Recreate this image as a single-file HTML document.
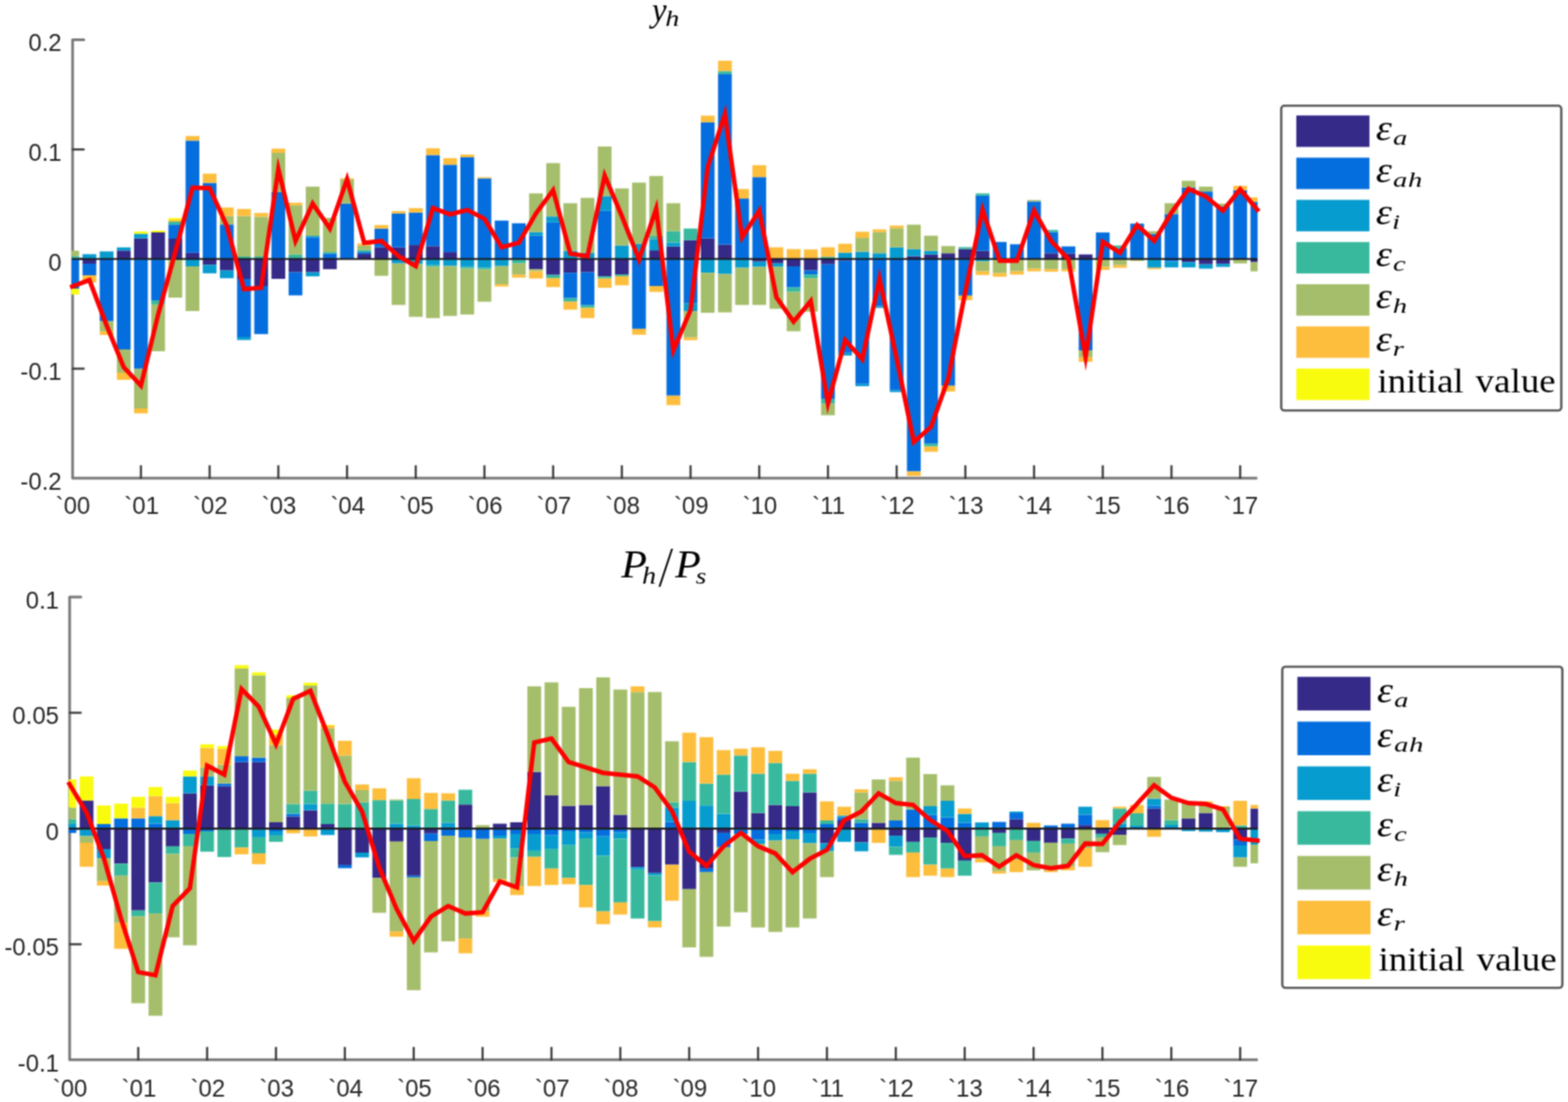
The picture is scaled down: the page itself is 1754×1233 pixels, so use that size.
<!DOCTYPE html>
<html lang="en"><head><meta charset="utf-8"><title>Historical decomposition</title>
<style>
html,body{margin:0;padding:0;background:#fff;}
body{width:1754px;height:1233px;overflow:hidden;}
svg{display:block;}
.tk{font-family:"Liberation Sans",sans-serif;font-size:27.2px;fill:#262626;}
.lg{font-family:"Liberation Serif",serif;font-size:37.2px;fill:#000;}
.mi{font-family:"Liberation Serif",serif;font-style:italic;fill:#000;}
</style></head>
<body>
<svg width="1754" height="1233" viewBox="0 0 1754 1233">
<defs><filter id="soft" x="0" y="0" width="1754" height="1233" filterUnits="userSpaceOnUse" color-interpolation-filters="sRGB"><feConvolveMatrix order="3" kernelMatrix="1 2 1 2 4 2 1 2 1" divisor="16" edgeMode="duplicate" preserveAlpha="true"/></filter></defs>
<g filter="url(#soft)">
<rect width="100%" height="100%" fill="#fff"/>
<g id="chart-yh">
<path d="M81.2 44.4 V535 H1406.5" fill="none" stroke="#787878" stroke-width="3.0" stroke-linejoin="round"/>
<text transform="translate(81.60,574.6) scale(0.985,1)" class="tk" text-anchor="middle">`00</text>
<line x1="157.65" y1="535.8" x2="157.65" y2="520.6" stroke="#3c3c3c" stroke-width="2.4"/>
<text transform="translate(158.45,574.6) scale(0.985,1)" class="tk" text-anchor="middle">`01</text>
<line x1="234.50" y1="535.8" x2="234.50" y2="520.6" stroke="#3c3c3c" stroke-width="2.4"/>
<text transform="translate(235.30,574.6) scale(0.985,1)" class="tk" text-anchor="middle">`02</text>
<line x1="311.36" y1="535.8" x2="311.36" y2="520.6" stroke="#3c3c3c" stroke-width="2.4"/>
<text transform="translate(312.16,574.6) scale(0.985,1)" class="tk" text-anchor="middle">`03</text>
<line x1="388.21" y1="535.8" x2="388.21" y2="520.6" stroke="#3c3c3c" stroke-width="2.4"/>
<text transform="translate(389.01,574.6) scale(0.985,1)" class="tk" text-anchor="middle">`04</text>
<line x1="465.06" y1="535.8" x2="465.06" y2="520.6" stroke="#3c3c3c" stroke-width="2.4"/>
<text transform="translate(465.86,574.6) scale(0.985,1)" class="tk" text-anchor="middle">`05</text>
<line x1="541.91" y1="535.8" x2="541.91" y2="520.6" stroke="#3c3c3c" stroke-width="2.4"/>
<text transform="translate(542.71,574.6) scale(0.985,1)" class="tk" text-anchor="middle">`06</text>
<line x1="618.76" y1="535.8" x2="618.76" y2="520.6" stroke="#3c3c3c" stroke-width="2.4"/>
<text transform="translate(619.56,574.6) scale(0.985,1)" class="tk" text-anchor="middle">`07</text>
<line x1="695.62" y1="535.8" x2="695.62" y2="520.6" stroke="#3c3c3c" stroke-width="2.4"/>
<text transform="translate(696.42,574.6) scale(0.985,1)" class="tk" text-anchor="middle">`08</text>
<line x1="772.47" y1="535.8" x2="772.47" y2="520.6" stroke="#3c3c3c" stroke-width="2.4"/>
<text transform="translate(773.27,574.6) scale(0.985,1)" class="tk" text-anchor="middle">`09</text>
<line x1="849.32" y1="535.8" x2="849.32" y2="520.6" stroke="#3c3c3c" stroke-width="2.4"/>
<text transform="translate(850.12,574.6) scale(0.985,1)" class="tk" text-anchor="middle">`10</text>
<line x1="926.17" y1="535.8" x2="926.17" y2="520.6" stroke="#3c3c3c" stroke-width="2.4"/>
<text transform="translate(926.97,574.6) scale(0.985,1)" class="tk" text-anchor="middle">`11</text>
<line x1="1003.02" y1="535.8" x2="1003.02" y2="520.6" stroke="#3c3c3c" stroke-width="2.4"/>
<text transform="translate(1003.82,574.6) scale(0.985,1)" class="tk" text-anchor="middle">`12</text>
<line x1="1079.88" y1="535.8" x2="1079.88" y2="520.6" stroke="#3c3c3c" stroke-width="2.4"/>
<text transform="translate(1080.68,574.6) scale(0.985,1)" class="tk" text-anchor="middle">`13</text>
<line x1="1156.73" y1="535.8" x2="1156.73" y2="520.6" stroke="#3c3c3c" stroke-width="2.4"/>
<text transform="translate(1157.53,574.6) scale(0.985,1)" class="tk" text-anchor="middle">`14</text>
<line x1="1233.58" y1="535.8" x2="1233.58" y2="520.6" stroke="#3c3c3c" stroke-width="2.4"/>
<text transform="translate(1234.38,574.6) scale(0.985,1)" class="tk" text-anchor="middle">`15</text>
<line x1="1310.43" y1="535.8" x2="1310.43" y2="520.6" stroke="#3c3c3c" stroke-width="2.4"/>
<text transform="translate(1311.23,574.6) scale(0.985,1)" class="tk" text-anchor="middle">`16</text>
<line x1="1387.28" y1="535.8" x2="1387.28" y2="520.6" stroke="#3c3c3c" stroke-width="2.4"/>
<text transform="translate(1388.08,574.6) scale(0.985,1)" class="tk" text-anchor="middle">`17</text>
<line x1="81.2" y1="44.4" x2="93.8" y2="44.4" stroke="#787878" stroke-width="3.0" stroke-linecap="round"/>
<text transform="translate(69,57.20) scale(0.985,1)" class="tk" text-anchor="end">0.2</text>
<line x1="80.4" y1="167.2" x2="94.60000000000001" y2="167.2" stroke="#3c3c3c" stroke-width="2.4"/>
<text transform="translate(69,180.00) scale(0.985,1)" class="tk" text-anchor="end">0.1</text>
<line x1="80.4" y1="289.75" x2="94.60000000000001" y2="289.75" stroke="#3c3c3c" stroke-width="2.4"/>
<text transform="translate(69,302.55) scale(0.985,1)" class="tk" text-anchor="end">0</text>
<line x1="80.4" y1="412.5" x2="94.60000000000001" y2="412.5" stroke="#3c3c3c" stroke-width="2.4"/>
<text transform="translate(69,425.30) scale(0.985,1)" class="tk" text-anchor="end">-0.1</text>
<text transform="translate(69,547.80) scale(0.985,1)" class="tk" text-anchor="end">-0.2</text>
<clipPath id="c1"><rect x="80.00" y="14.399999999999999" width="1326.80" height="520.6"/></clipPath>
<g clip-path="url(#c1)">
<rect x="73.10" y="286.50" width="15.40" height="3.25" fill="#38b99e"/>
<rect x="73.10" y="280.50" width="15.40" height="6.00" fill="#a5be6b"/>
<rect x="73.10" y="289.75" width="15.40" height="33.25" fill="#056ede"/>
<rect x="73.10" y="323.00" width="15.40" height="6.50" fill="#f9fb0e"/>
<rect x="92.31" y="284.40" width="15.40" height="5.35" fill="#079ccf"/>
<rect x="92.31" y="289.75" width="15.40" height="5.25" fill="#352a87"/>
<rect x="92.31" y="295.00" width="15.40" height="13.00" fill="#056ede"/>
<rect x="92.31" y="308.00" width="15.40" height="8.00" fill="#fdbe3d"/>
<rect x="111.53" y="281.30" width="15.40" height="8.45" fill="#079ccf"/>
<rect x="111.53" y="289.75" width="15.40" height="69.75" fill="#056ede"/>
<rect x="111.53" y="359.50" width="15.40" height="11.30" fill="#a5be6b"/>
<rect x="111.53" y="370.80" width="15.40" height="4.00" fill="#fdbe3d"/>
<rect x="130.74" y="280.30" width="15.40" height="9.45" fill="#352a87"/>
<rect x="130.74" y="276.80" width="15.40" height="3.50" fill="#079ccf"/>
<rect x="130.74" y="289.75" width="15.40" height="101.25" fill="#056ede"/>
<rect x="130.74" y="391.00" width="15.40" height="26.00" fill="#a5be6b"/>
<rect x="130.74" y="417.00" width="15.40" height="8.00" fill="#fdbe3d"/>
<rect x="149.95" y="266.70" width="15.40" height="23.05" fill="#352a87"/>
<rect x="149.95" y="261.50" width="15.40" height="5.20" fill="#079ccf"/>
<rect x="149.95" y="259.00" width="15.40" height="2.50" fill="#f9fb0e"/>
<rect x="149.95" y="289.75" width="15.40" height="122.95" fill="#056ede"/>
<rect x="149.95" y="412.70" width="15.40" height="44.30" fill="#a5be6b"/>
<rect x="149.95" y="457.00" width="15.40" height="5.50" fill="#fdbe3d"/>
<rect x="169.17" y="260.00" width="15.40" height="29.75" fill="#352a87"/>
<rect x="169.17" y="258.00" width="15.40" height="2.00" fill="#f9fb0e"/>
<rect x="169.17" y="289.75" width="15.40" height="46.25" fill="#056ede"/>
<rect x="169.17" y="336.00" width="15.40" height="4.80" fill="#38b99e"/>
<rect x="169.17" y="340.80" width="15.40" height="52.20" fill="#a5be6b"/>
<rect x="188.38" y="267.00" width="15.40" height="22.75" fill="#352a87"/>
<rect x="188.38" y="251.20" width="15.40" height="15.80" fill="#056ede"/>
<rect x="188.38" y="248.00" width="15.40" height="3.20" fill="#38b99e"/>
<rect x="188.38" y="246.00" width="15.40" height="2.00" fill="#fdbe3d"/>
<rect x="188.38" y="244.00" width="15.40" height="2.00" fill="#f9fb0e"/>
<rect x="188.38" y="289.75" width="15.40" height="43.25" fill="#a5be6b"/>
<rect x="207.59" y="282.80" width="15.40" height="6.95" fill="#352a87"/>
<rect x="207.59" y="157.30" width="15.40" height="125.50" fill="#056ede"/>
<rect x="207.59" y="152.20" width="15.40" height="5.10" fill="#fdbe3d"/>
<rect x="207.59" y="289.75" width="15.40" height="8.25" fill="#079ccf"/>
<rect x="207.59" y="298.00" width="15.40" height="50.00" fill="#a5be6b"/>
<rect x="226.80" y="204.60" width="15.40" height="85.15" fill="#056ede"/>
<rect x="226.80" y="194.30" width="15.40" height="10.30" fill="#fdbe3d"/>
<rect x="226.80" y="289.75" width="15.40" height="6.55" fill="#352a87"/>
<rect x="226.80" y="296.30" width="15.40" height="9.50" fill="#079ccf"/>
<rect x="246.02" y="251.20" width="15.40" height="38.55" fill="#056ede"/>
<rect x="246.02" y="241.70" width="15.40" height="9.50" fill="#a5be6b"/>
<rect x="246.02" y="232.20" width="15.40" height="9.50" fill="#fdbe3d"/>
<rect x="246.02" y="289.75" width="15.40" height="12.85" fill="#352a87"/>
<rect x="246.02" y="302.60" width="15.40" height="8.70" fill="#079ccf"/>
<rect x="265.23" y="287.00" width="15.40" height="2.75" fill="#38b99e"/>
<rect x="265.23" y="241.70" width="15.40" height="45.30" fill="#a5be6b"/>
<rect x="265.23" y="233.80" width="15.40" height="7.90" fill="#fdbe3d"/>
<rect x="265.23" y="289.75" width="15.40" height="22.25" fill="#352a87"/>
<rect x="265.23" y="312.00" width="15.40" height="65.00" fill="#056ede"/>
<rect x="265.23" y="377.00" width="15.40" height="3.40" fill="#079ccf"/>
<rect x="284.44" y="287.00" width="15.40" height="2.75" fill="#38b99e"/>
<rect x="284.44" y="242.50" width="15.40" height="44.50" fill="#a5be6b"/>
<rect x="284.44" y="238.30" width="15.40" height="4.20" fill="#fdbe3d"/>
<rect x="284.44" y="289.75" width="15.40" height="30.25" fill="#352a87"/>
<rect x="284.44" y="320.00" width="15.40" height="53.80" fill="#056ede"/>
<rect x="303.66" y="214.80" width="15.40" height="74.95" fill="#056ede"/>
<rect x="303.66" y="171.00" width="15.40" height="43.80" fill="#a5be6b"/>
<rect x="303.66" y="166.30" width="15.40" height="4.70" fill="#fdbe3d"/>
<rect x="303.66" y="289.75" width="15.40" height="22.25" fill="#352a87"/>
<rect x="322.87" y="284.70" width="15.40" height="5.05" fill="#38b99e"/>
<rect x="322.87" y="229.80" width="15.40" height="54.90" fill="#a5be6b"/>
<rect x="322.87" y="226.80" width="15.40" height="3.00" fill="#fdbe3d"/>
<rect x="322.87" y="289.75" width="15.40" height="14.85" fill="#352a87"/>
<rect x="322.87" y="304.60" width="15.40" height="25.90" fill="#056ede"/>
<rect x="342.08" y="265.70" width="15.40" height="24.05" fill="#056ede"/>
<rect x="342.08" y="264.00" width="15.40" height="1.70" fill="#079ccf"/>
<rect x="342.08" y="208.80" width="15.40" height="55.20" fill="#a5be6b"/>
<rect x="342.08" y="289.75" width="15.40" height="14.85" fill="#352a87"/>
<rect x="342.08" y="304.60" width="15.40" height="4.60" fill="#079ccf"/>
<rect x="361.30" y="283.70" width="15.40" height="6.05" fill="#056ede"/>
<rect x="361.30" y="282.00" width="15.40" height="1.70" fill="#38b99e"/>
<rect x="361.30" y="243.80" width="15.40" height="38.20" fill="#a5be6b"/>
<rect x="361.30" y="289.75" width="15.40" height="11.45" fill="#352a87"/>
<rect x="380.51" y="227.80" width="15.40" height="61.95" fill="#056ede"/>
<rect x="380.51" y="200.90" width="15.40" height="26.90" fill="#a5be6b"/>
<rect x="380.51" y="199.50" width="15.40" height="1.40" fill="#fdbe3d"/>
<rect x="399.72" y="284.10" width="15.40" height="5.65" fill="#352a87"/>
<rect x="399.72" y="282.10" width="15.40" height="2.00" fill="#056ede"/>
<rect x="399.72" y="279.70" width="15.40" height="2.40" fill="#38b99e"/>
<rect x="399.72" y="274.70" width="15.40" height="5.00" fill="#a5be6b"/>
<rect x="399.72" y="272.30" width="15.40" height="2.40" fill="#fdbe3d"/>
<rect x="418.93" y="276.70" width="15.40" height="13.05" fill="#352a87"/>
<rect x="418.93" y="255.70" width="15.40" height="21.00" fill="#056ede"/>
<rect x="418.93" y="251.80" width="15.40" height="3.90" fill="#fdbe3d"/>
<rect x="418.93" y="289.75" width="15.40" height="18.85" fill="#a5be6b"/>
<rect x="438.15" y="276.70" width="15.40" height="13.05" fill="#352a87"/>
<rect x="438.15" y="238.80" width="15.40" height="37.90" fill="#056ede"/>
<rect x="438.15" y="236.20" width="15.40" height="2.60" fill="#fdbe3d"/>
<rect x="438.15" y="289.75" width="15.40" height="4.95" fill="#079ccf"/>
<rect x="438.15" y="294.70" width="15.40" height="46.50" fill="#a5be6b"/>
<rect x="457.36" y="274.10" width="15.40" height="15.65" fill="#352a87"/>
<rect x="457.36" y="237.80" width="15.40" height="36.30" fill="#056ede"/>
<rect x="457.36" y="232.80" width="15.40" height="5.00" fill="#fdbe3d"/>
<rect x="457.36" y="289.75" width="15.40" height="5.55" fill="#079ccf"/>
<rect x="457.36" y="295.30" width="15.40" height="59.20" fill="#a5be6b"/>
<rect x="476.57" y="275.30" width="15.40" height="14.45" fill="#352a87"/>
<rect x="476.57" y="173.50" width="15.40" height="101.80" fill="#056ede"/>
<rect x="476.57" y="165.90" width="15.40" height="7.60" fill="#fdbe3d"/>
<rect x="476.57" y="289.75" width="15.40" height="6.95" fill="#079ccf"/>
<rect x="476.57" y="296.70" width="15.40" height="1.80" fill="#38b99e"/>
<rect x="476.57" y="298.50" width="15.40" height="57.40" fill="#a5be6b"/>
<rect x="495.79" y="282.10" width="15.40" height="7.65" fill="#352a87"/>
<rect x="495.79" y="184.30" width="15.40" height="97.80" fill="#056ede"/>
<rect x="495.79" y="176.90" width="15.40" height="7.40" fill="#fdbe3d"/>
<rect x="495.79" y="289.75" width="15.40" height="7.85" fill="#079ccf"/>
<rect x="495.79" y="297.60" width="15.40" height="55.90" fill="#a5be6b"/>
<rect x="515.00" y="175.90" width="15.40" height="113.85" fill="#056ede"/>
<rect x="515.00" y="172.90" width="15.40" height="3.00" fill="#fdbe3d"/>
<rect x="515.00" y="289.75" width="15.40" height="8.85" fill="#079ccf"/>
<rect x="515.00" y="298.60" width="15.40" height="1.90" fill="#38b99e"/>
<rect x="515.00" y="300.50" width="15.40" height="51.40" fill="#a5be6b"/>
<rect x="534.21" y="199.50" width="15.40" height="90.25" fill="#056ede"/>
<rect x="534.21" y="198.30" width="15.40" height="1.20" fill="#fdbe3d"/>
<rect x="534.21" y="289.75" width="15.40" height="9.85" fill="#079ccf"/>
<rect x="534.21" y="299.60" width="15.40" height="1.90" fill="#38b99e"/>
<rect x="534.21" y="301.50" width="15.40" height="36.10" fill="#a5be6b"/>
<rect x="553.42" y="246.80" width="15.40" height="42.95" fill="#056ede"/>
<rect x="553.42" y="289.75" width="15.40" height="7.95" fill="#079ccf"/>
<rect x="553.42" y="297.70" width="15.40" height="20.50" fill="#a5be6b"/>
<rect x="553.42" y="318.20" width="15.40" height="2.40" fill="#fdbe3d"/>
<rect x="572.64" y="249.80" width="15.40" height="39.95" fill="#056ede"/>
<rect x="572.64" y="289.75" width="15.40" height="4.95" fill="#38b99e"/>
<rect x="572.64" y="294.70" width="15.40" height="12.50" fill="#a5be6b"/>
<rect x="572.64" y="307.20" width="15.40" height="3.40" fill="#fdbe3d"/>
<rect x="591.85" y="263.70" width="15.40" height="26.05" fill="#056ede"/>
<rect x="591.85" y="259.70" width="15.40" height="4.00" fill="#079ccf"/>
<rect x="591.85" y="216.40" width="15.40" height="43.30" fill="#a5be6b"/>
<rect x="591.85" y="289.75" width="15.40" height="11.45" fill="#352a87"/>
<rect x="591.85" y="301.20" width="15.40" height="2.30" fill="#a5be6b"/>
<rect x="591.85" y="303.50" width="15.40" height="8.10" fill="#fdbe3d"/>
<rect x="611.06" y="248.80" width="15.40" height="40.95" fill="#056ede"/>
<rect x="611.06" y="242.20" width="15.40" height="6.60" fill="#079ccf"/>
<rect x="611.06" y="182.50" width="15.40" height="59.70" fill="#a5be6b"/>
<rect x="611.06" y="289.75" width="15.40" height="17.85" fill="#352a87"/>
<rect x="611.06" y="307.60" width="15.40" height="3.60" fill="#38b99e"/>
<rect x="611.06" y="311.20" width="15.40" height="10.00" fill="#fdbe3d"/>
<rect x="630.28" y="280.70" width="15.40" height="9.05" fill="#079ccf"/>
<rect x="630.28" y="227.40" width="15.40" height="53.30" fill="#a5be6b"/>
<rect x="630.28" y="289.75" width="15.40" height="15.45" fill="#352a87"/>
<rect x="630.28" y="305.20" width="15.40" height="28.40" fill="#056ede"/>
<rect x="630.28" y="333.60" width="15.40" height="4.00" fill="#38b99e"/>
<rect x="630.28" y="337.60" width="15.40" height="8.90" fill="#fdbe3d"/>
<rect x="649.49" y="282.70" width="15.40" height="7.05" fill="#079ccf"/>
<rect x="649.49" y="221.40" width="15.40" height="61.30" fill="#a5be6b"/>
<rect x="649.49" y="289.75" width="15.40" height="14.85" fill="#352a87"/>
<rect x="649.49" y="304.60" width="15.40" height="37.00" fill="#056ede"/>
<rect x="649.49" y="341.60" width="15.40" height="2.90" fill="#38b99e"/>
<rect x="649.49" y="344.50" width="15.40" height="11.40" fill="#fdbe3d"/>
<rect x="668.70" y="235.80" width="15.40" height="53.95" fill="#056ede"/>
<rect x="668.70" y="219.40" width="15.40" height="16.40" fill="#079ccf"/>
<rect x="668.70" y="163.90" width="15.40" height="55.50" fill="#a5be6b"/>
<rect x="668.70" y="289.75" width="15.40" height="19.45" fill="#352a87"/>
<rect x="668.70" y="309.20" width="15.40" height="2.40" fill="#38b99e"/>
<rect x="668.70" y="311.60" width="15.40" height="10.40" fill="#fdbe3d"/>
<rect x="687.92" y="274.70" width="15.40" height="15.05" fill="#079ccf"/>
<rect x="687.92" y="210.80" width="15.40" height="63.90" fill="#a5be6b"/>
<rect x="687.92" y="289.75" width="15.40" height="17.45" fill="#352a87"/>
<rect x="687.92" y="307.20" width="15.40" height="1.80" fill="#38b99e"/>
<rect x="687.92" y="309.00" width="15.40" height="10.20" fill="#fdbe3d"/>
<rect x="707.13" y="272.70" width="15.40" height="17.05" fill="#079ccf"/>
<rect x="707.13" y="204.30" width="15.40" height="68.40" fill="#a5be6b"/>
<rect x="707.13" y="289.75" width="15.40" height="78.15" fill="#056ede"/>
<rect x="707.13" y="367.90" width="15.40" height="6.60" fill="#fdbe3d"/>
<rect x="726.34" y="280.10" width="15.40" height="9.65" fill="#352a87"/>
<rect x="726.34" y="267.70" width="15.40" height="12.40" fill="#079ccf"/>
<rect x="726.34" y="264.10" width="15.40" height="3.60" fill="#38b99e"/>
<rect x="726.34" y="196.90" width="15.40" height="67.20" fill="#a5be6b"/>
<rect x="726.34" y="289.75" width="15.40" height="30.25" fill="#056ede"/>
<rect x="726.34" y="320.00" width="15.40" height="6.60" fill="#fdbe3d"/>
<rect x="745.55" y="275.70" width="15.40" height="14.05" fill="#352a87"/>
<rect x="745.55" y="271.50" width="15.40" height="4.20" fill="#079ccf"/>
<rect x="745.55" y="258.70" width="15.40" height="12.80" fill="#38b99e"/>
<rect x="745.55" y="227.40" width="15.40" height="31.30" fill="#a5be6b"/>
<rect x="745.55" y="289.75" width="15.40" height="152.95" fill="#056ede"/>
<rect x="745.55" y="442.70" width="15.40" height="10.60" fill="#fdbe3d"/>
<rect x="764.77" y="268.70" width="15.40" height="21.05" fill="#352a87"/>
<rect x="764.77" y="255.70" width="15.40" height="13.00" fill="#38b99e"/>
<rect x="764.77" y="289.75" width="15.40" height="49.85" fill="#056ede"/>
<rect x="764.77" y="339.60" width="15.40" height="8.60" fill="#079ccf"/>
<rect x="764.77" y="348.20" width="15.40" height="29.40" fill="#a5be6b"/>
<rect x="764.77" y="377.60" width="15.40" height="3.00" fill="#fdbe3d"/>
<rect x="783.98" y="266.70" width="15.40" height="23.05" fill="#352a87"/>
<rect x="783.98" y="136.80" width="15.40" height="129.90" fill="#056ede"/>
<rect x="783.98" y="129.40" width="15.40" height="7.40" fill="#fdbe3d"/>
<rect x="783.98" y="289.75" width="15.40" height="15.45" fill="#079ccf"/>
<rect x="783.98" y="305.20" width="15.40" height="44.80" fill="#a5be6b"/>
<rect x="803.19" y="273.70" width="15.40" height="16.05" fill="#352a87"/>
<rect x="803.19" y="82.90" width="15.40" height="190.80" fill="#056ede"/>
<rect x="803.19" y="79.50" width="15.40" height="3.40" fill="#38b99e"/>
<rect x="803.19" y="67.90" width="15.40" height="11.60" fill="#fdbe3d"/>
<rect x="803.19" y="289.75" width="15.40" height="16.85" fill="#079ccf"/>
<rect x="803.19" y="306.60" width="15.40" height="42.90" fill="#a5be6b"/>
<rect x="822.41" y="222.10" width="15.40" height="67.65" fill="#056ede"/>
<rect x="822.41" y="211.50" width="15.40" height="10.60" fill="#fdbe3d"/>
<rect x="822.41" y="289.75" width="15.40" height="9.85" fill="#079ccf"/>
<rect x="822.41" y="299.60" width="15.40" height="41.60" fill="#a5be6b"/>
<rect x="841.62" y="198.20" width="15.40" height="91.55" fill="#056ede"/>
<rect x="841.62" y="184.80" width="15.40" height="13.40" fill="#fdbe3d"/>
<rect x="841.62" y="289.75" width="15.40" height="2.95" fill="#352a87"/>
<rect x="841.62" y="292.70" width="15.40" height="5.90" fill="#079ccf"/>
<rect x="841.62" y="298.60" width="15.40" height="42.60" fill="#a5be6b"/>
<rect x="860.83" y="276.70" width="15.40" height="13.05" fill="#fdbe3d"/>
<rect x="860.83" y="289.75" width="15.40" height="4.95" fill="#352a87"/>
<rect x="860.83" y="294.70" width="15.40" height="3.90" fill="#079ccf"/>
<rect x="860.83" y="298.60" width="15.40" height="46.90" fill="#a5be6b"/>
<rect x="880.05" y="278.70" width="15.40" height="11.05" fill="#fdbe3d"/>
<rect x="880.05" y="289.75" width="15.40" height="8.25" fill="#352a87"/>
<rect x="880.05" y="298.00" width="15.40" height="23.60" fill="#056ede"/>
<rect x="880.05" y="321.60" width="15.40" height="5.00" fill="#38b99e"/>
<rect x="880.05" y="326.60" width="15.40" height="44.00" fill="#a5be6b"/>
<rect x="899.26" y="279.10" width="15.40" height="10.65" fill="#fdbe3d"/>
<rect x="899.26" y="289.75" width="15.40" height="12.85" fill="#352a87"/>
<rect x="899.26" y="302.60" width="15.40" height="4.60" fill="#056ede"/>
<rect x="899.26" y="307.20" width="15.40" height="4.00" fill="#38b99e"/>
<rect x="899.26" y="311.20" width="15.40" height="37.50" fill="#a5be6b"/>
<rect x="918.47" y="287.30" width="15.40" height="2.45" fill="#38b99e"/>
<rect x="918.47" y="276.70" width="15.40" height="10.60" fill="#fdbe3d"/>
<rect x="918.47" y="289.75" width="15.40" height="5.95" fill="#352a87"/>
<rect x="918.47" y="295.70" width="15.40" height="151.00" fill="#056ede"/>
<rect x="918.47" y="446.70" width="15.40" height="5.00" fill="#38b99e"/>
<rect x="918.47" y="451.70" width="15.40" height="12.90" fill="#a5be6b"/>
<rect x="937.68" y="282.70" width="15.40" height="7.05" fill="#079ccf"/>
<rect x="937.68" y="272.70" width="15.40" height="10.00" fill="#fdbe3d"/>
<rect x="937.68" y="289.75" width="15.40" height="1.95" fill="#352a87"/>
<rect x="937.68" y="291.70" width="15.40" height="103.10" fill="#056ede"/>
<rect x="937.68" y="394.80" width="15.40" height="3.00" fill="#079ccf"/>
<rect x="956.90" y="281.70" width="15.40" height="8.05" fill="#079ccf"/>
<rect x="956.90" y="266.10" width="15.40" height="15.60" fill="#a5be6b"/>
<rect x="956.90" y="259.30" width="15.40" height="6.80" fill="#fdbe3d"/>
<rect x="956.90" y="289.75" width="15.40" height="139.95" fill="#056ede"/>
<rect x="956.90" y="429.70" width="15.40" height="2.40" fill="#079ccf"/>
<rect x="976.11" y="283.30" width="15.40" height="6.45" fill="#079ccf"/>
<rect x="976.11" y="259.70" width="15.40" height="23.60" fill="#a5be6b"/>
<rect x="976.11" y="256.70" width="15.40" height="3.00" fill="#fdbe3d"/>
<rect x="976.11" y="289.75" width="15.40" height="52.75" fill="#056ede"/>
<rect x="976.11" y="342.50" width="15.40" height="2.00" fill="#079ccf"/>
<rect x="995.32" y="276.70" width="15.40" height="13.05" fill="#079ccf"/>
<rect x="995.32" y="255.30" width="15.40" height="21.40" fill="#a5be6b"/>
<rect x="995.32" y="252.40" width="15.40" height="2.90" fill="#fdbe3d"/>
<rect x="995.32" y="289.75" width="15.40" height="146.95" fill="#056ede"/>
<rect x="995.32" y="436.70" width="15.40" height="2.00" fill="#079ccf"/>
<rect x="1014.54" y="286.70" width="15.40" height="3.05" fill="#352a87"/>
<rect x="1014.54" y="278.70" width="15.40" height="8.00" fill="#079ccf"/>
<rect x="1014.54" y="251.40" width="15.40" height="27.30" fill="#a5be6b"/>
<rect x="1014.54" y="289.75" width="15.40" height="237.75" fill="#056ede"/>
<rect x="1014.54" y="527.50" width="15.40" height="5.00" fill="#fdbe3d"/>
<rect x="1033.75" y="284.70" width="15.40" height="5.05" fill="#352a87"/>
<rect x="1033.75" y="280.70" width="15.40" height="4.00" fill="#079ccf"/>
<rect x="1033.75" y="263.70" width="15.40" height="17.00" fill="#a5be6b"/>
<rect x="1033.75" y="289.75" width="15.40" height="206.85" fill="#056ede"/>
<rect x="1033.75" y="496.60" width="15.40" height="3.00" fill="#38b99e"/>
<rect x="1033.75" y="499.60" width="15.40" height="5.90" fill="#fdbe3d"/>
<rect x="1052.96" y="283.30" width="15.40" height="6.45" fill="#352a87"/>
<rect x="1052.96" y="275.30" width="15.40" height="8.00" fill="#a5be6b"/>
<rect x="1052.96" y="289.75" width="15.40" height="141.95" fill="#056ede"/>
<rect x="1052.96" y="431.70" width="15.40" height="6.40" fill="#fdbe3d"/>
<rect x="1072.18" y="278.70" width="15.40" height="11.05" fill="#352a87"/>
<rect x="1072.18" y="276.50" width="15.40" height="2.20" fill="#38b99e"/>
<rect x="1072.18" y="289.75" width="15.40" height="41.05" fill="#056ede"/>
<rect x="1072.18" y="330.80" width="15.40" height="5.00" fill="#fdbe3d"/>
<rect x="1091.39" y="280.70" width="15.40" height="9.05" fill="#352a87"/>
<rect x="1091.39" y="218.80" width="15.40" height="61.90" fill="#056ede"/>
<rect x="1091.39" y="216.40" width="15.40" height="2.40" fill="#38b99e"/>
<rect x="1091.39" y="289.75" width="15.40" height="2.75" fill="#079ccf"/>
<rect x="1091.39" y="292.50" width="15.40" height="11.10" fill="#a5be6b"/>
<rect x="1091.39" y="303.60" width="15.40" height="4.00" fill="#fdbe3d"/>
<rect x="1110.60" y="270.70" width="15.40" height="19.05" fill="#056ede"/>
<rect x="1110.60" y="289.75" width="15.40" height="15.85" fill="#a5be6b"/>
<rect x="1110.60" y="305.60" width="15.40" height="4.00" fill="#fdbe3d"/>
<rect x="1129.82" y="273.30" width="15.40" height="16.45" fill="#056ede"/>
<rect x="1129.82" y="289.75" width="15.40" height="13.85" fill="#a5be6b"/>
<rect x="1129.82" y="303.60" width="15.40" height="3.60" fill="#fdbe3d"/>
<rect x="1149.03" y="225.40" width="15.40" height="64.35" fill="#056ede"/>
<rect x="1149.03" y="223.80" width="15.40" height="1.60" fill="#a5be6b"/>
<rect x="1149.03" y="289.75" width="15.40" height="10.85" fill="#a5be6b"/>
<rect x="1149.03" y="300.60" width="15.40" height="3.00" fill="#fdbe3d"/>
<rect x="1168.24" y="283.30" width="15.40" height="6.45" fill="#352a87"/>
<rect x="1168.24" y="259.70" width="15.40" height="23.60" fill="#056ede"/>
<rect x="1168.24" y="257.30" width="15.40" height="2.40" fill="#38b99e"/>
<rect x="1168.24" y="289.75" width="15.40" height="11.45" fill="#a5be6b"/>
<rect x="1168.24" y="301.20" width="15.40" height="2.80" fill="#fdbe3d"/>
<rect x="1187.45" y="283.50" width="15.40" height="6.25" fill="#352a87"/>
<rect x="1187.45" y="275.70" width="15.40" height="7.80" fill="#056ede"/>
<rect x="1187.45" y="289.75" width="15.40" height="11.45" fill="#a5be6b"/>
<rect x="1187.45" y="301.20" width="15.40" height="2.40" fill="#fdbe3d"/>
<rect x="1206.67" y="284.70" width="15.40" height="5.05" fill="#352a87"/>
<rect x="1206.67" y="289.75" width="15.40" height="102.45" fill="#056ede"/>
<rect x="1206.67" y="392.20" width="15.40" height="7.60" fill="#a5be6b"/>
<rect x="1206.67" y="399.80" width="15.40" height="5.00" fill="#fdbe3d"/>
<rect x="1225.88" y="260.10" width="15.40" height="29.65" fill="#056ede"/>
<rect x="1225.88" y="289.75" width="15.40" height="8.85" fill="#a5be6b"/>
<rect x="1225.88" y="298.60" width="15.40" height="3.40" fill="#fdbe3d"/>
<rect x="1245.09" y="277.70" width="15.40" height="12.05" fill="#056ede"/>
<rect x="1245.09" y="274.70" width="15.40" height="3.00" fill="#38b99e"/>
<rect x="1245.09" y="289.75" width="15.40" height="6.95" fill="#a5be6b"/>
<rect x="1245.09" y="296.70" width="15.40" height="2.90" fill="#fdbe3d"/>
<rect x="1264.31" y="250.20" width="15.40" height="39.55" fill="#056ede"/>
<rect x="1264.31" y="289.75" width="15.40" height="2.25" fill="#a5be6b"/>
<rect x="1283.52" y="261.70" width="15.40" height="28.05" fill="#056ede"/>
<rect x="1283.52" y="258.70" width="15.40" height="3.00" fill="#a5be6b"/>
<rect x="1283.52" y="289.75" width="15.40" height="9.85" fill="#079ccf"/>
<rect x="1283.52" y="299.60" width="15.40" height="1.60" fill="#fdbe3d"/>
<rect x="1302.73" y="239.40" width="15.40" height="50.35" fill="#056ede"/>
<rect x="1302.73" y="227.40" width="15.40" height="12.00" fill="#a5be6b"/>
<rect x="1302.73" y="289.75" width="15.40" height="2.75" fill="#056ede"/>
<rect x="1302.73" y="292.50" width="15.40" height="6.70" fill="#079ccf"/>
<rect x="1321.94" y="209.80" width="15.40" height="79.95" fill="#056ede"/>
<rect x="1321.94" y="202.30" width="15.40" height="7.50" fill="#a5be6b"/>
<rect x="1321.94" y="289.75" width="15.40" height="3.55" fill="#352a87"/>
<rect x="1321.94" y="293.30" width="15.40" height="5.90" fill="#079ccf"/>
<rect x="1341.16" y="214.20" width="15.40" height="75.55" fill="#056ede"/>
<rect x="1341.16" y="208.80" width="15.40" height="5.40" fill="#a5be6b"/>
<rect x="1341.16" y="289.75" width="15.40" height="5.95" fill="#352a87"/>
<rect x="1341.16" y="295.70" width="15.40" height="4.90" fill="#079ccf"/>
<rect x="1360.37" y="230.80" width="15.40" height="58.95" fill="#056ede"/>
<rect x="1360.37" y="227.80" width="15.40" height="3.00" fill="#a5be6b"/>
<rect x="1360.37" y="289.75" width="15.40" height="5.55" fill="#352a87"/>
<rect x="1360.37" y="295.30" width="15.40" height="3.30" fill="#079ccf"/>
<rect x="1379.58" y="212.80" width="15.40" height="76.95" fill="#056ede"/>
<rect x="1379.58" y="207.90" width="15.40" height="4.90" fill="#fdbe3d"/>
<rect x="1379.58" y="289.75" width="15.40" height="4.95" fill="#a5be6b"/>
<rect x="1398.80" y="225.80" width="15.40" height="63.95" fill="#056ede"/>
<rect x="1398.80" y="220.80" width="15.40" height="5.00" fill="#fdbe3d"/>
<rect x="1398.80" y="289.75" width="15.40" height="3.55" fill="#352a87"/>
<rect x="1398.80" y="293.30" width="15.40" height="10.30" fill="#a5be6b"/>
</g>
<line x1="80.3" y1="289.75" x2="1406.5" y2="289.75" stroke="#1c1c24" stroke-width="2.2"/>
<polyline points="80.80,320.60 100.01,313.30 119.23,364.00 138.44,411.00 157.65,431.50 176.87,352.00 196.08,282.00 215.29,210.00 234.50,210.50 253.72,252.70 272.93,323.60 292.14,322.00 311.36,189.00 330.57,269.70 349.78,227.80 369.00,255.70 388.21,200.50 407.42,271.70 426.63,269.70 445.85,286.70 465.06,297.70 484.27,232.80 503.49,239.80 522.70,234.80 541.91,244.80 561.12,276.70 580.34,271.70 599.55,238.80 618.76,212.80 637.98,283.70 657.19,286.70 676.40,196.50 695.62,241.80 714.83,290.50 734.04,233.50 753.25,392.00 772.47,346.90 791.68,186.80 810.89,127.80 830.11,265.50 849.32,235.80 868.53,332.70 887.75,359.90 906.96,336.90 926.17,451.60 945.38,380.50 964.60,402.00 983.81,312.00 1003.02,401.00 1022.24,494.60 1041.45,477.60 1060.66,423.70 1079.88,326.00 1099.09,234.80 1118.30,291.70 1137.52,291.70 1156.73,235.80 1175.94,269.70 1195.15,290.00 1214.37,399.50 1233.58,270.70 1252.79,282.70 1272.01,251.80 1291.22,269.70 1310.43,238.00 1329.64,211.40 1348.86,219.80 1368.07,235.80 1387.28,211.80 1406.50,234.80" fill="none" stroke="#ff0000" stroke-width="5.0" stroke-linejoin="miter" stroke-miterlimit="10" stroke-linecap="square"/>
<rect x="1433.20" y="118.3" width="313.30" height="341.0" rx="3.5" fill="#fff" stroke="#5a5a5a" stroke-width="2.6"/>
<rect x="1450.10" y="129.20" width="81.8" height="35.2" fill="#352a87"/>
<text transform="translate(1539.09,156.60) scale(1.12,1)" class="mi" font-size="40.6">ε</text>
<text transform="translate(1558.24,161.60) scale(1.33,1)" class="mi" font-size="24">a</text>
<rect x="1450.10" y="176.40" width="81.8" height="35.2" fill="#056ede"/>
<text transform="translate(1539.09,203.80) scale(1.12,1)" class="mi" font-size="40.6">ε</text>
<text transform="translate(1558.24,208.80) scale(1.33,1)" class="mi" font-size="24" letter-spacing="0.7">ah</text>
<rect x="1450.10" y="223.60" width="81.8" height="35.2" fill="#079ccf"/>
<text transform="translate(1539.09,251.00) scale(1.12,1)" class="mi" font-size="40.6">ε</text>
<text transform="translate(1557.28,256.00) scale(1.33,1)" class="mi" font-size="24">i</text>
<rect x="1450.10" y="270.80" width="81.8" height="35.2" fill="#38b99e"/>
<text transform="translate(1539.09,298.20) scale(1.12,1)" class="mi" font-size="40.6">ε</text>
<text transform="translate(1558.24,303.20) scale(1.33,1)" class="mi" font-size="24">c</text>
<rect x="1450.10" y="318.00" width="81.8" height="35.2" fill="#a5be6b"/>
<text transform="translate(1539.09,345.40) scale(1.12,1)" class="mi" font-size="40.6">ε</text>
<text transform="translate(1557.92,350.40) scale(1.33,1)" class="mi" font-size="24">h</text>
<rect x="1450.10" y="365.20" width="81.8" height="35.2" fill="#fdbe3d"/>
<text transform="translate(1539.09,392.60) scale(1.12,1)" class="mi" font-size="40.6">ε</text>
<text transform="translate(1557.92,397.60) scale(1.33,1)" class="mi" font-size="24">r</text>
<rect x="1450.10" y="412.40" width="81.8" height="35.2" fill="#f9fb0e"/>
<text transform="translate(1540.80,438.80) scale(1.113,1)" class="lg" word-spacing="2.6">initial value</text>
</g>
<g id="chart-ph-ps">
<path d="M77.9 668 V1185.8 H1407.0" fill="none" stroke="#787878" stroke-width="3.0" stroke-linejoin="round"/>
<text transform="translate(78.40,1226.8) scale(0.985,1)" class="tk" text-anchor="middle">`00</text>
<line x1="154.64" y1="1186.6" x2="154.64" y2="1171.3999999999999" stroke="#3c3c3c" stroke-width="2.4"/>
<text transform="translate(155.44,1226.8) scale(0.985,1)" class="tk" text-anchor="middle">`01</text>
<line x1="231.68" y1="1186.6" x2="231.68" y2="1171.3999999999999" stroke="#3c3c3c" stroke-width="2.4"/>
<text transform="translate(232.48,1226.8) scale(0.985,1)" class="tk" text-anchor="middle">`02</text>
<line x1="308.72" y1="1186.6" x2="308.72" y2="1171.3999999999999" stroke="#3c3c3c" stroke-width="2.4"/>
<text transform="translate(309.52,1226.8) scale(0.985,1)" class="tk" text-anchor="middle">`03</text>
<line x1="385.76" y1="1186.6" x2="385.76" y2="1171.3999999999999" stroke="#3c3c3c" stroke-width="2.4"/>
<text transform="translate(386.56,1226.8) scale(0.985,1)" class="tk" text-anchor="middle">`04</text>
<line x1="462.80" y1="1186.6" x2="462.80" y2="1171.3999999999999" stroke="#3c3c3c" stroke-width="2.4"/>
<text transform="translate(463.60,1226.8) scale(0.985,1)" class="tk" text-anchor="middle">`05</text>
<line x1="539.84" y1="1186.6" x2="539.84" y2="1171.3999999999999" stroke="#3c3c3c" stroke-width="2.4"/>
<text transform="translate(540.64,1226.8) scale(0.985,1)" class="tk" text-anchor="middle">`06</text>
<line x1="616.88" y1="1186.6" x2="616.88" y2="1171.3999999999999" stroke="#3c3c3c" stroke-width="2.4"/>
<text transform="translate(617.68,1226.8) scale(0.985,1)" class="tk" text-anchor="middle">`07</text>
<line x1="693.92" y1="1186.6" x2="693.92" y2="1171.3999999999999" stroke="#3c3c3c" stroke-width="2.4"/>
<text transform="translate(694.72,1226.8) scale(0.985,1)" class="tk" text-anchor="middle">`08</text>
<line x1="770.96" y1="1186.6" x2="770.96" y2="1171.3999999999999" stroke="#3c3c3c" stroke-width="2.4"/>
<text transform="translate(771.76,1226.8) scale(0.985,1)" class="tk" text-anchor="middle">`09</text>
<line x1="848.00" y1="1186.6" x2="848.00" y2="1171.3999999999999" stroke="#3c3c3c" stroke-width="2.4"/>
<text transform="translate(848.80,1226.8) scale(0.985,1)" class="tk" text-anchor="middle">`10</text>
<line x1="925.04" y1="1186.6" x2="925.04" y2="1171.3999999999999" stroke="#3c3c3c" stroke-width="2.4"/>
<text transform="translate(925.84,1226.8) scale(0.985,1)" class="tk" text-anchor="middle">`11</text>
<line x1="1002.08" y1="1186.6" x2="1002.08" y2="1171.3999999999999" stroke="#3c3c3c" stroke-width="2.4"/>
<text transform="translate(1002.88,1226.8) scale(0.985,1)" class="tk" text-anchor="middle">`12</text>
<line x1="1079.12" y1="1186.6" x2="1079.12" y2="1171.3999999999999" stroke="#3c3c3c" stroke-width="2.4"/>
<text transform="translate(1079.92,1226.8) scale(0.985,1)" class="tk" text-anchor="middle">`13</text>
<line x1="1156.16" y1="1186.6" x2="1156.16" y2="1171.3999999999999" stroke="#3c3c3c" stroke-width="2.4"/>
<text transform="translate(1156.96,1226.8) scale(0.985,1)" class="tk" text-anchor="middle">`14</text>
<line x1="1233.20" y1="1186.6" x2="1233.20" y2="1171.3999999999999" stroke="#3c3c3c" stroke-width="2.4"/>
<text transform="translate(1234.00,1226.8) scale(0.985,1)" class="tk" text-anchor="middle">`15</text>
<line x1="1310.24" y1="1186.6" x2="1310.24" y2="1171.3999999999999" stroke="#3c3c3c" stroke-width="2.4"/>
<text transform="translate(1311.04,1226.8) scale(0.985,1)" class="tk" text-anchor="middle">`16</text>
<line x1="1387.28" y1="1186.6" x2="1387.28" y2="1171.3999999999999" stroke="#3c3c3c" stroke-width="2.4"/>
<text transform="translate(1388.08,1226.8) scale(0.985,1)" class="tk" text-anchor="middle">`17</text>
<line x1="77.9" y1="668" x2="90.5" y2="668" stroke="#787878" stroke-width="3.0" stroke-linecap="round"/>
<text transform="translate(66,680.80) scale(0.985,1)" class="tk" text-anchor="end">0.1</text>
<line x1="77.10000000000001" y1="797.5" x2="91.30000000000001" y2="797.5" stroke="#3c3c3c" stroke-width="2.4"/>
<text transform="translate(66,810.30) scale(0.985,1)" class="tk" text-anchor="end">0.05</text>
<line x1="77.10000000000001" y1="927.2" x2="91.30000000000001" y2="927.2" stroke="#3c3c3c" stroke-width="2.4"/>
<text transform="translate(66,940.00) scale(0.985,1)" class="tk" text-anchor="end">0</text>
<line x1="77.10000000000001" y1="1056.5" x2="91.30000000000001" y2="1056.5" stroke="#3c3c3c" stroke-width="2.4"/>
<text transform="translate(66,1069.30) scale(0.985,1)" class="tk" text-anchor="end">-0.05</text>
<text transform="translate(66,1198.60) scale(0.985,1)" class="tk" text-anchor="end">-0.1</text>
<clipPath id="c2"><rect x="76.80" y="638" width="1330.50" height="547.8"/></clipPath>
<g clip-path="url(#c2)">
<rect x="69.90" y="922.00" width="15.40" height="5.20" fill="#079ccf"/>
<rect x="69.90" y="916.60" width="15.40" height="5.40" fill="#38b99e"/>
<rect x="69.90" y="903.60" width="15.40" height="13.00" fill="#a5be6b"/>
<rect x="69.90" y="872.10" width="15.40" height="31.50" fill="#f9fb0e"/>
<rect x="69.90" y="927.20" width="15.40" height="4.80" fill="#056ede"/>
<rect x="89.16" y="895.60" width="15.40" height="31.60" fill="#352a87"/>
<rect x="89.16" y="868.70" width="15.40" height="26.90" fill="#f9fb0e"/>
<rect x="89.16" y="927.20" width="15.40" height="8.30" fill="#079ccf"/>
<rect x="89.16" y="935.50" width="15.40" height="7.50" fill="#a5be6b"/>
<rect x="89.16" y="943.00" width="15.40" height="26.80" fill="#fdbe3d"/>
<rect x="108.42" y="922.00" width="15.40" height="5.20" fill="#056ede"/>
<rect x="108.42" y="901.20" width="15.40" height="20.80" fill="#f9fb0e"/>
<rect x="108.42" y="927.20" width="15.40" height="22.80" fill="#352a87"/>
<rect x="108.42" y="950.00" width="15.40" height="10.00" fill="#079ccf"/>
<rect x="108.42" y="960.00" width="15.40" height="25.80" fill="#a5be6b"/>
<rect x="108.42" y="985.80" width="15.40" height="5.00" fill="#fdbe3d"/>
<rect x="127.68" y="915.60" width="15.40" height="11.60" fill="#056ede"/>
<rect x="127.68" y="899.20" width="15.40" height="16.40" fill="#f9fb0e"/>
<rect x="127.68" y="927.20" width="15.40" height="39.10" fill="#352a87"/>
<rect x="127.68" y="966.30" width="15.40" height="13.50" fill="#38b99e"/>
<rect x="127.68" y="979.80" width="15.40" height="52.90" fill="#a5be6b"/>
<rect x="127.68" y="1032.70" width="15.40" height="28.90" fill="#fdbe3d"/>
<rect x="146.94" y="915.60" width="15.40" height="11.60" fill="#056ede"/>
<rect x="146.94" y="903.60" width="15.40" height="12.00" fill="#fdbe3d"/>
<rect x="146.94" y="891.60" width="15.40" height="12.00" fill="#f9fb0e"/>
<rect x="146.94" y="927.20" width="15.40" height="91.50" fill="#352a87"/>
<rect x="146.94" y="1018.70" width="15.40" height="6.60" fill="#38b99e"/>
<rect x="146.94" y="1025.30" width="15.40" height="97.20" fill="#a5be6b"/>
<rect x="166.20" y="921.60" width="15.40" height="5.60" fill="#056ede"/>
<rect x="166.20" y="913.20" width="15.40" height="8.40" fill="#079ccf"/>
<rect x="166.20" y="890.60" width="15.40" height="22.60" fill="#fdbe3d"/>
<rect x="166.20" y="880.60" width="15.40" height="10.00" fill="#f9fb0e"/>
<rect x="166.20" y="927.20" width="15.40" height="60.20" fill="#352a87"/>
<rect x="166.20" y="987.40" width="15.40" height="34.70" fill="#38b99e"/>
<rect x="166.20" y="1022.10" width="15.40" height="114.40" fill="#a5be6b"/>
<rect x="185.46" y="917.60" width="15.40" height="9.60" fill="#079ccf"/>
<rect x="185.46" y="898.60" width="15.40" height="19.00" fill="#fdbe3d"/>
<rect x="185.46" y="891.60" width="15.40" height="7.00" fill="#f9fb0e"/>
<rect x="185.46" y="927.20" width="15.40" height="19.70" fill="#352a87"/>
<rect x="185.46" y="946.90" width="15.40" height="8.60" fill="#38b99e"/>
<rect x="185.46" y="955.50" width="15.40" height="93.20" fill="#a5be6b"/>
<rect x="204.72" y="887.60" width="15.40" height="39.60" fill="#352a87"/>
<rect x="204.72" y="868.70" width="15.40" height="18.90" fill="#079ccf"/>
<rect x="204.72" y="862.10" width="15.40" height="6.60" fill="#f9fb0e"/>
<rect x="204.72" y="927.20" width="15.40" height="5.80" fill="#056ede"/>
<rect x="204.72" y="933.00" width="15.40" height="13.90" fill="#38b99e"/>
<rect x="204.72" y="946.90" width="15.40" height="110.80" fill="#a5be6b"/>
<rect x="223.98" y="878.70" width="15.40" height="48.50" fill="#352a87"/>
<rect x="223.98" y="868.70" width="15.40" height="10.00" fill="#079ccf"/>
<rect x="223.98" y="858.70" width="15.40" height="10.00" fill="#a5be6b"/>
<rect x="223.98" y="836.70" width="15.40" height="22.00" fill="#fdbe3d"/>
<rect x="223.98" y="832.80" width="15.40" height="3.90" fill="#f9fb0e"/>
<rect x="223.98" y="927.20" width="15.40" height="2.80" fill="#056ede"/>
<rect x="223.98" y="930.00" width="15.40" height="22.90" fill="#38b99e"/>
<rect x="243.24" y="879.70" width="15.40" height="47.50" fill="#352a87"/>
<rect x="243.24" y="876.70" width="15.40" height="3.00" fill="#056ede"/>
<rect x="243.24" y="855.70" width="15.40" height="21.00" fill="#a5be6b"/>
<rect x="243.24" y="837.70" width="15.40" height="18.00" fill="#fdbe3d"/>
<rect x="243.24" y="834.70" width="15.40" height="3.00" fill="#f9fb0e"/>
<rect x="243.24" y="927.20" width="15.40" height="31.70" fill="#38b99e"/>
<rect x="262.50" y="852.70" width="15.40" height="74.50" fill="#352a87"/>
<rect x="262.50" y="846.10" width="15.40" height="6.60" fill="#056ede"/>
<rect x="262.50" y="747.90" width="15.40" height="98.20" fill="#a5be6b"/>
<rect x="262.50" y="744.30" width="15.40" height="3.60" fill="#f9fb0e"/>
<rect x="262.50" y="927.20" width="15.40" height="21.10" fill="#38b99e"/>
<rect x="262.50" y="948.30" width="15.40" height="7.60" fill="#fdbe3d"/>
<rect x="281.76" y="852.70" width="15.40" height="74.50" fill="#352a87"/>
<rect x="281.76" y="847.70" width="15.40" height="5.00" fill="#056ede"/>
<rect x="281.76" y="755.50" width="15.40" height="92.20" fill="#a5be6b"/>
<rect x="281.76" y="752.30" width="15.40" height="3.20" fill="#f9fb0e"/>
<rect x="281.76" y="927.20" width="15.40" height="9.70" fill="#079ccf"/>
<rect x="281.76" y="936.90" width="15.40" height="18.00" fill="#38b99e"/>
<rect x="281.76" y="954.90" width="15.40" height="12.00" fill="#fdbe3d"/>
<rect x="301.02" y="920.00" width="15.40" height="7.20" fill="#352a87"/>
<rect x="301.02" y="833.70" width="15.40" height="86.30" fill="#a5be6b"/>
<rect x="301.02" y="821.80" width="15.40" height="11.90" fill="#fdbe3d"/>
<rect x="301.02" y="816.20" width="15.40" height="5.60" fill="#f9fb0e"/>
<rect x="301.02" y="927.20" width="15.40" height="2.80" fill="#056ede"/>
<rect x="301.02" y="930.00" width="15.40" height="4.90" fill="#079ccf"/>
<rect x="301.02" y="934.90" width="15.40" height="7.00" fill="#38b99e"/>
<rect x="320.28" y="913.60" width="15.40" height="13.60" fill="#352a87"/>
<rect x="320.28" y="910.60" width="15.40" height="3.00" fill="#056ede"/>
<rect x="320.28" y="899.60" width="15.40" height="11.00" fill="#38b99e"/>
<rect x="320.28" y="780.90" width="15.40" height="118.70" fill="#a5be6b"/>
<rect x="320.28" y="777.90" width="15.40" height="3.00" fill="#f9fb0e"/>
<rect x="320.28" y="927.20" width="15.40" height="5.10" fill="#fdbe3d"/>
<rect x="339.54" y="906.60" width="15.40" height="20.60" fill="#352a87"/>
<rect x="339.54" y="899.60" width="15.40" height="7.00" fill="#079ccf"/>
<rect x="339.54" y="884.60" width="15.40" height="15.00" fill="#38b99e"/>
<rect x="339.54" y="766.90" width="15.40" height="117.70" fill="#a5be6b"/>
<rect x="339.54" y="763.90" width="15.40" height="3.00" fill="#f9fb0e"/>
<rect x="339.54" y="927.20" width="15.40" height="8.70" fill="#fdbe3d"/>
<rect x="358.80" y="922.00" width="15.40" height="5.20" fill="#352a87"/>
<rect x="358.80" y="899.20" width="15.40" height="22.80" fill="#38b99e"/>
<rect x="358.80" y="814.80" width="15.40" height="84.40" fill="#a5be6b"/>
<rect x="358.80" y="812.00" width="15.40" height="2.80" fill="#fdbe3d"/>
<rect x="358.80" y="811.00" width="15.40" height="1.00" fill="#f9fb0e"/>
<rect x="358.80" y="927.20" width="15.40" height="7.10" fill="#079ccf"/>
<rect x="378.06" y="899.60" width="15.40" height="27.60" fill="#38b99e"/>
<rect x="378.06" y="845.30" width="15.40" height="54.30" fill="#a5be6b"/>
<rect x="378.06" y="828.80" width="15.40" height="16.50" fill="#fdbe3d"/>
<rect x="378.06" y="927.20" width="15.40" height="40.70" fill="#352a87"/>
<rect x="378.06" y="967.90" width="15.40" height="3.50" fill="#056ede"/>
<rect x="397.32" y="897.60" width="15.40" height="29.60" fill="#38b99e"/>
<rect x="397.32" y="884.00" width="15.40" height="13.60" fill="#a5be6b"/>
<rect x="397.32" y="877.70" width="15.40" height="6.30" fill="#fdbe3d"/>
<rect x="397.32" y="927.20" width="15.40" height="26.80" fill="#352a87"/>
<rect x="397.32" y="954.00" width="15.40" height="5.30" fill="#079ccf"/>
<rect x="416.58" y="895.20" width="15.40" height="32.00" fill="#38b99e"/>
<rect x="416.58" y="882.00" width="15.40" height="13.20" fill="#fdbe3d"/>
<rect x="416.58" y="927.20" width="15.40" height="55.00" fill="#352a87"/>
<rect x="416.58" y="982.20" width="15.40" height="39.10" fill="#a5be6b"/>
<rect x="435.84" y="921.60" width="15.40" height="5.60" fill="#079ccf"/>
<rect x="435.84" y="895.60" width="15.40" height="26.00" fill="#38b99e"/>
<rect x="435.84" y="894.50" width="15.40" height="1.10" fill="#a5be6b"/>
<rect x="435.84" y="927.20" width="15.40" height="14.50" fill="#352a87"/>
<rect x="435.84" y="941.70" width="15.40" height="100.40" fill="#a5be6b"/>
<rect x="435.84" y="1042.10" width="15.40" height="6.00" fill="#fdbe3d"/>
<rect x="455.10" y="923.50" width="15.40" height="3.70" fill="#079ccf"/>
<rect x="455.10" y="894.00" width="15.40" height="29.50" fill="#38b99e"/>
<rect x="455.10" y="870.70" width="15.40" height="23.30" fill="#fdbe3d"/>
<rect x="455.10" y="927.20" width="15.40" height="52.60" fill="#352a87"/>
<rect x="455.10" y="979.80" width="15.40" height="2.00" fill="#056ede"/>
<rect x="455.10" y="981.80" width="15.40" height="126.10" fill="#a5be6b"/>
<rect x="474.36" y="905.20" width="15.40" height="22.00" fill="#38b99e"/>
<rect x="474.36" y="887.20" width="15.40" height="18.00" fill="#fdbe3d"/>
<rect x="474.36" y="927.20" width="15.40" height="5.50" fill="#352a87"/>
<rect x="474.36" y="932.70" width="15.40" height="8.30" fill="#056ede"/>
<rect x="474.36" y="941.00" width="15.40" height="124.60" fill="#a5be6b"/>
<rect x="493.62" y="920.60" width="15.40" height="6.60" fill="#079ccf"/>
<rect x="493.62" y="895.60" width="15.40" height="25.00" fill="#38b99e"/>
<rect x="493.62" y="887.60" width="15.40" height="8.00" fill="#fdbe3d"/>
<rect x="493.62" y="927.20" width="15.40" height="7.80" fill="#056ede"/>
<rect x="493.62" y="935.00" width="15.40" height="118.30" fill="#a5be6b"/>
<rect x="512.88" y="900.20" width="15.40" height="27.00" fill="#352a87"/>
<rect x="512.88" y="883.60" width="15.40" height="16.60" fill="#38b99e"/>
<rect x="512.88" y="927.20" width="15.40" height="9.80" fill="#056ede"/>
<rect x="512.88" y="937.00" width="15.40" height="113.10" fill="#a5be6b"/>
<rect x="512.88" y="1050.10" width="15.40" height="16.50" fill="#fdbe3d"/>
<rect x="532.14" y="923.20" width="15.40" height="4.00" fill="#a5be6b"/>
<rect x="532.14" y="927.20" width="15.40" height="11.50" fill="#056ede"/>
<rect x="532.14" y="938.70" width="15.40" height="81.00" fill="#a5be6b"/>
<rect x="532.14" y="1019.70" width="15.40" height="6.00" fill="#fdbe3d"/>
<rect x="551.40" y="921.60" width="15.40" height="5.60" fill="#352a87"/>
<rect x="551.40" y="927.20" width="15.40" height="7.80" fill="#056ede"/>
<rect x="551.40" y="935.00" width="15.40" height="3.20" fill="#079ccf"/>
<rect x="551.40" y="938.20" width="15.40" height="45.60" fill="#a5be6b"/>
<rect x="551.40" y="983.80" width="15.40" height="3.00" fill="#fdbe3d"/>
<rect x="570.66" y="920.00" width="15.40" height="7.20" fill="#352a87"/>
<rect x="570.66" y="927.20" width="15.40" height="5.80" fill="#056ede"/>
<rect x="570.66" y="933.00" width="15.40" height="16.20" fill="#079ccf"/>
<rect x="570.66" y="949.20" width="15.40" height="10.30" fill="#38b99e"/>
<rect x="570.66" y="959.50" width="15.40" height="32.30" fill="#a5be6b"/>
<rect x="570.66" y="991.80" width="15.40" height="9.60" fill="#fdbe3d"/>
<rect x="589.92" y="863.70" width="15.40" height="63.50" fill="#352a87"/>
<rect x="589.92" y="767.90" width="15.40" height="95.80" fill="#a5be6b"/>
<rect x="589.92" y="927.20" width="15.40" height="5.80" fill="#056ede"/>
<rect x="589.92" y="933.00" width="15.40" height="18.90" fill="#079ccf"/>
<rect x="589.92" y="951.90" width="15.40" height="6.80" fill="#38b99e"/>
<rect x="589.92" y="958.70" width="15.40" height="32.70" fill="#fdbe3d"/>
<rect x="609.18" y="890.00" width="15.40" height="37.20" fill="#352a87"/>
<rect x="609.18" y="763.50" width="15.40" height="126.50" fill="#a5be6b"/>
<rect x="609.18" y="927.20" width="15.40" height="7.40" fill="#056ede"/>
<rect x="609.18" y="934.60" width="15.40" height="15.30" fill="#079ccf"/>
<rect x="609.18" y="949.90" width="15.40" height="21.90" fill="#38b99e"/>
<rect x="609.18" y="971.80" width="15.40" height="18.40" fill="#fdbe3d"/>
<rect x="628.44" y="901.60" width="15.40" height="25.60" fill="#352a87"/>
<rect x="628.44" y="790.80" width="15.40" height="110.80" fill="#a5be6b"/>
<rect x="628.44" y="927.20" width="15.40" height="2.80" fill="#056ede"/>
<rect x="628.44" y="930.00" width="15.40" height="15.70" fill="#079ccf"/>
<rect x="628.44" y="945.70" width="15.40" height="36.50" fill="#38b99e"/>
<rect x="628.44" y="982.20" width="15.40" height="7.20" fill="#fdbe3d"/>
<rect x="647.70" y="900.60" width="15.40" height="26.60" fill="#352a87"/>
<rect x="647.70" y="769.90" width="15.40" height="130.70" fill="#a5be6b"/>
<rect x="647.70" y="927.20" width="15.40" height="4.30" fill="#056ede"/>
<rect x="647.70" y="931.50" width="15.40" height="6.50" fill="#079ccf"/>
<rect x="647.70" y="938.00" width="15.40" height="52.20" fill="#38b99e"/>
<rect x="647.70" y="990.20" width="15.40" height="25.10" fill="#fdbe3d"/>
<rect x="666.96" y="879.60" width="15.40" height="47.60" fill="#352a87"/>
<rect x="666.96" y="757.90" width="15.40" height="121.70" fill="#a5be6b"/>
<rect x="666.96" y="927.20" width="15.40" height="8.50" fill="#056ede"/>
<rect x="666.96" y="935.70" width="15.40" height="21.80" fill="#079ccf"/>
<rect x="666.96" y="957.50" width="15.40" height="62.20" fill="#38b99e"/>
<rect x="666.96" y="1019.70" width="15.40" height="14.40" fill="#fdbe3d"/>
<rect x="686.22" y="911.60" width="15.40" height="15.60" fill="#352a87"/>
<rect x="686.22" y="771.50" width="15.40" height="140.10" fill="#a5be6b"/>
<rect x="686.22" y="927.20" width="15.40" height="4.30" fill="#056ede"/>
<rect x="686.22" y="931.50" width="15.40" height="6.90" fill="#079ccf"/>
<rect x="686.22" y="938.40" width="15.40" height="71.40" fill="#38b99e"/>
<rect x="686.22" y="1009.80" width="15.40" height="13.50" fill="#fdbe3d"/>
<rect x="705.48" y="774.30" width="15.40" height="152.90" fill="#a5be6b"/>
<rect x="705.48" y="767.90" width="15.40" height="6.40" fill="#fdbe3d"/>
<rect x="705.48" y="927.20" width="15.40" height="43.00" fill="#352a87"/>
<rect x="705.48" y="970.20" width="15.40" height="2.60" fill="#079ccf"/>
<rect x="705.48" y="972.80" width="15.40" height="54.90" fill="#38b99e"/>
<rect x="724.74" y="774.30" width="15.40" height="152.90" fill="#a5be6b"/>
<rect x="724.74" y="927.20" width="15.40" height="49.60" fill="#352a87"/>
<rect x="724.74" y="976.80" width="15.40" height="2.60" fill="#079ccf"/>
<rect x="724.74" y="979.40" width="15.40" height="51.30" fill="#38b99e"/>
<rect x="724.74" y="1030.70" width="15.40" height="7.00" fill="#fdbe3d"/>
<rect x="744.00" y="919.60" width="15.40" height="7.60" fill="#056ede"/>
<rect x="744.00" y="903.60" width="15.40" height="16.00" fill="#079ccf"/>
<rect x="744.00" y="897.60" width="15.40" height="6.00" fill="#38b99e"/>
<rect x="744.00" y="829.40" width="15.40" height="68.20" fill="#a5be6b"/>
<rect x="744.00" y="927.20" width="15.40" height="40.30" fill="#352a87"/>
<rect x="744.00" y="967.50" width="15.40" height="40.30" fill="#fdbe3d"/>
<rect x="763.26" y="896.00" width="15.40" height="31.20" fill="#079ccf"/>
<rect x="763.26" y="852.70" width="15.40" height="43.30" fill="#38b99e"/>
<rect x="763.26" y="819.80" width="15.40" height="32.90" fill="#fdbe3d"/>
<rect x="763.26" y="927.20" width="15.40" height="67.60" fill="#352a87"/>
<rect x="763.26" y="994.80" width="15.40" height="65.20" fill="#a5be6b"/>
<rect x="782.52" y="901.20" width="15.40" height="26.00" fill="#079ccf"/>
<rect x="782.52" y="876.70" width="15.40" height="24.50" fill="#38b99e"/>
<rect x="782.52" y="824.80" width="15.40" height="51.90" fill="#fdbe3d"/>
<rect x="782.52" y="927.20" width="15.40" height="44.60" fill="#352a87"/>
<rect x="782.52" y="971.80" width="15.40" height="4.00" fill="#056ede"/>
<rect x="782.52" y="975.80" width="15.40" height="94.80" fill="#a5be6b"/>
<rect x="801.78" y="910.60" width="15.40" height="16.60" fill="#079ccf"/>
<rect x="801.78" y="866.70" width="15.40" height="43.90" fill="#38b99e"/>
<rect x="801.78" y="839.30" width="15.40" height="27.40" fill="#fdbe3d"/>
<rect x="801.78" y="927.20" width="15.40" height="4.70" fill="#352a87"/>
<rect x="801.78" y="931.90" width="15.40" height="16.00" fill="#056ede"/>
<rect x="801.78" y="947.90" width="15.40" height="88.80" fill="#a5be6b"/>
<rect x="821.04" y="885.60" width="15.40" height="41.60" fill="#352a87"/>
<rect x="821.04" y="845.30" width="15.40" height="40.30" fill="#38b99e"/>
<rect x="821.04" y="837.70" width="15.40" height="7.60" fill="#fdbe3d"/>
<rect x="821.04" y="927.20" width="15.40" height="5.80" fill="#056ede"/>
<rect x="821.04" y="933.00" width="15.40" height="87.70" fill="#a5be6b"/>
<rect x="840.30" y="909.60" width="15.40" height="17.60" fill="#352a87"/>
<rect x="840.30" y="865.70" width="15.40" height="43.90" fill="#38b99e"/>
<rect x="840.30" y="836.10" width="15.40" height="29.60" fill="#fdbe3d"/>
<rect x="840.30" y="927.20" width="15.40" height="12.30" fill="#056ede"/>
<rect x="840.30" y="939.50" width="15.40" height="4.50" fill="#079ccf"/>
<rect x="840.30" y="944.00" width="15.40" height="93.70" fill="#a5be6b"/>
<rect x="859.56" y="900.60" width="15.40" height="26.60" fill="#352a87"/>
<rect x="859.56" y="853.70" width="15.40" height="46.90" fill="#38b99e"/>
<rect x="859.56" y="840.10" width="15.40" height="13.60" fill="#fdbe3d"/>
<rect x="859.56" y="927.20" width="15.40" height="5.80" fill="#056ede"/>
<rect x="859.56" y="933.00" width="15.40" height="7.50" fill="#079ccf"/>
<rect x="859.56" y="940.50" width="15.40" height="102.20" fill="#a5be6b"/>
<rect x="878.82" y="902.00" width="15.40" height="25.20" fill="#352a87"/>
<rect x="878.82" y="873.70" width="15.40" height="28.30" fill="#38b99e"/>
<rect x="878.82" y="865.70" width="15.40" height="8.00" fill="#fdbe3d"/>
<rect x="878.82" y="927.20" width="15.40" height="2.80" fill="#056ede"/>
<rect x="878.82" y="930.00" width="15.40" height="9.10" fill="#079ccf"/>
<rect x="878.82" y="939.10" width="15.40" height="98.60" fill="#a5be6b"/>
<rect x="898.08" y="886.60" width="15.40" height="40.60" fill="#352a87"/>
<rect x="898.08" y="865.70" width="15.40" height="20.90" fill="#38b99e"/>
<rect x="898.08" y="860.70" width="15.40" height="5.00" fill="#fdbe3d"/>
<rect x="898.08" y="927.20" width="15.40" height="4.80" fill="#056ede"/>
<rect x="898.08" y="932.00" width="15.40" height="11.50" fill="#079ccf"/>
<rect x="898.08" y="943.50" width="15.40" height="84.20" fill="#a5be6b"/>
<rect x="917.34" y="922.00" width="15.40" height="5.20" fill="#056ede"/>
<rect x="917.34" y="918.00" width="15.40" height="4.00" fill="#38b99e"/>
<rect x="917.34" y="896.60" width="15.40" height="21.40" fill="#fdbe3d"/>
<rect x="917.34" y="927.20" width="15.40" height="16.30" fill="#352a87"/>
<rect x="917.34" y="943.50" width="15.40" height="9.00" fill="#079ccf"/>
<rect x="917.34" y="952.50" width="15.40" height="28.90" fill="#a5be6b"/>
<rect x="936.60" y="918.00" width="15.40" height="9.20" fill="#352a87"/>
<rect x="936.60" y="914.60" width="15.40" height="3.40" fill="#056ede"/>
<rect x="936.60" y="912.50" width="15.40" height="2.10" fill="#079ccf"/>
<rect x="936.60" y="902.60" width="15.40" height="9.90" fill="#fdbe3d"/>
<rect x="936.60" y="927.20" width="15.40" height="14.70" fill="#079ccf"/>
<rect x="955.86" y="920.60" width="15.40" height="6.60" fill="#056ede"/>
<rect x="955.86" y="916.60" width="15.40" height="4.00" fill="#38b99e"/>
<rect x="955.86" y="886.60" width="15.40" height="30.00" fill="#a5be6b"/>
<rect x="955.86" y="883.20" width="15.40" height="3.40" fill="#fdbe3d"/>
<rect x="955.86" y="927.20" width="15.40" height="15.30" fill="#352a87"/>
<rect x="955.86" y="942.50" width="15.40" height="10.00" fill="#079ccf"/>
<rect x="975.12" y="920.60" width="15.40" height="6.60" fill="#352a87"/>
<rect x="975.12" y="872.10" width="15.40" height="48.50" fill="#a5be6b"/>
<rect x="975.12" y="927.20" width="15.40" height="15.90" fill="#fdbe3d"/>
<rect x="994.38" y="918.00" width="15.40" height="9.20" fill="#056ede"/>
<rect x="994.38" y="873.70" width="15.40" height="44.30" fill="#a5be6b"/>
<rect x="994.38" y="869.70" width="15.40" height="4.00" fill="#fdbe3d"/>
<rect x="994.38" y="927.20" width="15.40" height="7.90" fill="#352a87"/>
<rect x="994.38" y="935.10" width="15.40" height="12.40" fill="#079ccf"/>
<rect x="994.38" y="947.50" width="15.40" height="9.00" fill="#38b99e"/>
<rect x="1013.64" y="905.60" width="15.40" height="21.60" fill="#056ede"/>
<rect x="1013.64" y="847.70" width="15.40" height="57.90" fill="#a5be6b"/>
<rect x="1013.64" y="927.20" width="15.40" height="14.70" fill="#352a87"/>
<rect x="1013.64" y="941.90" width="15.40" height="12.00" fill="#38b99e"/>
<rect x="1013.64" y="953.90" width="15.40" height="27.50" fill="#fdbe3d"/>
<rect x="1032.90" y="911.60" width="15.40" height="15.60" fill="#056ede"/>
<rect x="1032.90" y="902.00" width="15.40" height="9.60" fill="#079ccf"/>
<rect x="1032.90" y="866.10" width="15.40" height="35.90" fill="#a5be6b"/>
<rect x="1032.90" y="927.20" width="15.40" height="9.90" fill="#352a87"/>
<rect x="1032.90" y="937.10" width="15.40" height="30.40" fill="#38b99e"/>
<rect x="1032.90" y="967.50" width="15.40" height="12.30" fill="#fdbe3d"/>
<rect x="1052.16" y="914.60" width="15.40" height="12.60" fill="#056ede"/>
<rect x="1052.16" y="896.00" width="15.40" height="18.60" fill="#079ccf"/>
<rect x="1052.16" y="878.70" width="15.40" height="17.30" fill="#a5be6b"/>
<rect x="1052.16" y="927.20" width="15.40" height="15.90" fill="#352a87"/>
<rect x="1052.16" y="943.10" width="15.40" height="28.70" fill="#38b99e"/>
<rect x="1052.16" y="971.80" width="15.40" height="9.60" fill="#fdbe3d"/>
<rect x="1071.42" y="920.60" width="15.40" height="6.60" fill="#056ede"/>
<rect x="1071.42" y="910.60" width="15.40" height="10.00" fill="#079ccf"/>
<rect x="1071.42" y="904.60" width="15.40" height="6.00" fill="#fdbe3d"/>
<rect x="1071.42" y="927.20" width="15.40" height="35.70" fill="#352a87"/>
<rect x="1071.42" y="962.90" width="15.40" height="16.90" fill="#38b99e"/>
<rect x="1090.68" y="920.20" width="15.40" height="7.00" fill="#079ccf"/>
<rect x="1090.68" y="927.20" width="15.40" height="8.70" fill="#38b99e"/>
<rect x="1090.68" y="935.90" width="15.40" height="25.00" fill="#a5be6b"/>
<rect x="1090.68" y="960.90" width="15.40" height="4.00" fill="#fdbe3d"/>
<rect x="1109.94" y="919.60" width="15.40" height="7.60" fill="#056ede"/>
<rect x="1109.94" y="927.20" width="15.40" height="4.70" fill="#352a87"/>
<rect x="1109.94" y="931.90" width="15.40" height="15.00" fill="#38b99e"/>
<rect x="1109.94" y="946.90" width="15.40" height="27.90" fill="#a5be6b"/>
<rect x="1109.94" y="974.80" width="15.40" height="2.60" fill="#fdbe3d"/>
<rect x="1129.20" y="916.60" width="15.40" height="10.60" fill="#352a87"/>
<rect x="1129.20" y="910.00" width="15.40" height="6.60" fill="#056ede"/>
<rect x="1129.20" y="908.00" width="15.40" height="2.00" fill="#079ccf"/>
<rect x="1129.20" y="927.20" width="15.40" height="12.70" fill="#38b99e"/>
<rect x="1129.20" y="939.90" width="15.40" height="22.00" fill="#a5be6b"/>
<rect x="1129.20" y="961.90" width="15.40" height="13.90" fill="#fdbe3d"/>
<rect x="1148.46" y="920.60" width="15.40" height="6.60" fill="#fdbe3d"/>
<rect x="1148.46" y="927.20" width="15.40" height="13.70" fill="#352a87"/>
<rect x="1148.46" y="940.90" width="15.40" height="13.00" fill="#38b99e"/>
<rect x="1148.46" y="953.90" width="15.40" height="19.90" fill="#a5be6b"/>
<rect x="1167.72" y="923.60" width="15.40" height="3.60" fill="#056ede"/>
<rect x="1167.72" y="927.20" width="15.40" height="15.70" fill="#352a87"/>
<rect x="1167.72" y="942.90" width="15.40" height="30.90" fill="#a5be6b"/>
<rect x="1167.72" y="973.80" width="15.40" height="2.00" fill="#fdbe3d"/>
<rect x="1186.98" y="921.60" width="15.40" height="5.60" fill="#056ede"/>
<rect x="1186.98" y="927.20" width="15.40" height="11.10" fill="#352a87"/>
<rect x="1186.98" y="938.30" width="15.40" height="5.60" fill="#38b99e"/>
<rect x="1186.98" y="943.90" width="15.40" height="25.90" fill="#a5be6b"/>
<rect x="1186.98" y="969.80" width="15.40" height="4.00" fill="#fdbe3d"/>
<rect x="1206.24" y="923.20" width="15.40" height="4.00" fill="#352a87"/>
<rect x="1206.24" y="911.60" width="15.40" height="11.60" fill="#056ede"/>
<rect x="1206.24" y="902.60" width="15.40" height="9.00" fill="#079ccf"/>
<rect x="1206.24" y="927.20" width="15.40" height="21.70" fill="#a5be6b"/>
<rect x="1206.24" y="948.90" width="15.40" height="20.90" fill="#fdbe3d"/>
<rect x="1225.50" y="917.60" width="15.40" height="9.60" fill="#fdbe3d"/>
<rect x="1225.50" y="927.20" width="15.40" height="5.70" fill="#352a87"/>
<rect x="1225.50" y="932.90" width="15.40" height="4.00" fill="#38b99e"/>
<rect x="1225.50" y="936.90" width="15.40" height="16.60" fill="#a5be6b"/>
<rect x="1244.76" y="921.60" width="15.40" height="5.60" fill="#079ccf"/>
<rect x="1244.76" y="904.60" width="15.40" height="17.00" fill="#38b99e"/>
<rect x="1244.76" y="902.60" width="15.40" height="2.00" fill="#fdbe3d"/>
<rect x="1244.76" y="927.20" width="15.40" height="7.10" fill="#352a87"/>
<rect x="1244.76" y="934.30" width="15.40" height="11.20" fill="#a5be6b"/>
<rect x="1264.02" y="924.00" width="15.40" height="3.20" fill="#079ccf"/>
<rect x="1264.02" y="910.00" width="15.40" height="14.00" fill="#38b99e"/>
<rect x="1264.02" y="900.60" width="15.40" height="9.40" fill="#fdbe3d"/>
<rect x="1283.28" y="904.60" width="15.40" height="22.60" fill="#352a87"/>
<rect x="1283.28" y="901.60" width="15.40" height="3.00" fill="#056ede"/>
<rect x="1283.28" y="893.60" width="15.40" height="8.00" fill="#079ccf"/>
<rect x="1283.28" y="869.30" width="15.40" height="24.30" fill="#a5be6b"/>
<rect x="1283.28" y="927.20" width="15.40" height="9.10" fill="#fdbe3d"/>
<rect x="1302.54" y="923.00" width="15.40" height="4.20" fill="#079ccf"/>
<rect x="1302.54" y="917.60" width="15.40" height="5.40" fill="#38b99e"/>
<rect x="1302.54" y="894.60" width="15.40" height="23.00" fill="#a5be6b"/>
<rect x="1321.80" y="915.60" width="15.40" height="11.60" fill="#352a87"/>
<rect x="1321.80" y="897.60" width="15.40" height="18.00" fill="#a5be6b"/>
<rect x="1321.80" y="927.20" width="15.40" height="2.70" fill="#079ccf"/>
<rect x="1341.06" y="909.60" width="15.40" height="17.60" fill="#352a87"/>
<rect x="1341.06" y="900.00" width="15.40" height="9.60" fill="#a5be6b"/>
<rect x="1341.06" y="896.60" width="15.40" height="3.40" fill="#fdbe3d"/>
<rect x="1341.06" y="927.20" width="15.40" height="3.30" fill="#079ccf"/>
<rect x="1360.32" y="903.00" width="15.40" height="24.20" fill="#a5be6b"/>
<rect x="1360.32" y="902.00" width="15.40" height="1.00" fill="#fdbe3d"/>
<rect x="1360.32" y="927.20" width="15.40" height="3.90" fill="#079ccf"/>
<rect x="1379.58" y="923.50" width="15.40" height="3.70" fill="#38b99e"/>
<rect x="1379.58" y="896.00" width="15.40" height="27.50" fill="#fdbe3d"/>
<rect x="1379.58" y="927.20" width="15.40" height="12.30" fill="#352a87"/>
<rect x="1379.58" y="939.50" width="15.40" height="6.50" fill="#056ede"/>
<rect x="1379.58" y="946.00" width="15.40" height="13.50" fill="#079ccf"/>
<rect x="1379.58" y="959.50" width="15.40" height="10.30" fill="#a5be6b"/>
<rect x="1398.84" y="904.60" width="15.40" height="22.60" fill="#352a87"/>
<rect x="1398.84" y="900.60" width="15.40" height="4.00" fill="#fdbe3d"/>
<rect x="1398.84" y="927.20" width="15.40" height="17.80" fill="#079ccf"/>
<rect x="1398.84" y="945.00" width="15.40" height="20.90" fill="#a5be6b"/>
</g>
<line x1="77.1" y1="927.2" x2="1407.0" y2="927.2" stroke="#1c1c24" stroke-width="2.2"/>
<polyline points="77.60,877.20 96.86,909.10 116.12,959.90 135.38,1027.70 154.64,1087.60 173.90,1091.20 193.16,1013.70 212.42,993.80 231.68,856.70 250.94,866.70 270.20,770.90 289.46,790.80 308.72,832.80 327.98,781.90 347.24,772.90 366.50,822.00 385.76,874.70 405.02,908.00 424.28,970.80 443.54,1016.70 462.80,1052.70 482.06,1025.70 501.32,1013.70 520.58,1022.10 539.84,1020.70 559.10,986.20 578.36,992.80 597.62,830.80 616.88,826.20 636.14,852.70 655.40,858.70 674.66,864.70 693.92,866.70 713.18,868.70 732.44,881.00 751.70,907.60 770.96,952.90 790.22,968.80 809.48,946.90 828.74,931.90 848.00,946.90 867.26,954.90 886.52,975.80 905.78,960.90 925.04,950.90 944.30,918.00 963.56,908.00 982.82,887.60 1002.08,898.60 1021.34,900.60 1040.60,917.60 1059.86,929.80 1079.12,957.90 1098.38,956.90 1117.64,969.80 1136.90,956.90 1156.16,967.90 1175.42,971.40 1194.68,968.80 1213.94,943.90 1233.20,944.30 1252.46,920.00 1271.72,899.60 1290.98,878.70 1310.24,892.60 1329.50,898.60 1348.76,899.60 1368.02,905.60 1387.28,938.50 1406.54,940.50" fill="none" stroke="#ff0000" stroke-width="5.0" stroke-linejoin="miter" stroke-miterlimit="10" stroke-linecap="square"/>
<rect x="1434.40" y="746.0" width="313.30" height="359.3" rx="3.5" fill="#fff" stroke="#5a5a5a" stroke-width="2.6"/>
<rect x="1451.30" y="757.30" width="81.8" height="37.6" fill="#352a87"/>
<text transform="translate(1540.29,785.90) scale(1.12,1)" class="mi" font-size="40.6">ε</text>
<text transform="translate(1559.44,790.90) scale(1.33,1)" class="mi" font-size="24">a</text>
<rect x="1451.30" y="807.40" width="81.8" height="37.6" fill="#056ede"/>
<text transform="translate(1540.29,836.00) scale(1.12,1)" class="mi" font-size="40.6">ε</text>
<text transform="translate(1559.44,841.00) scale(1.33,1)" class="mi" font-size="24" letter-spacing="0.7">ah</text>
<rect x="1451.30" y="857.50" width="81.8" height="37.6" fill="#079ccf"/>
<text transform="translate(1540.29,886.10) scale(1.12,1)" class="mi" font-size="40.6">ε</text>
<text transform="translate(1558.48,891.10) scale(1.33,1)" class="mi" font-size="24">i</text>
<rect x="1451.30" y="907.60" width="81.8" height="37.6" fill="#38b99e"/>
<text transform="translate(1540.29,936.20) scale(1.12,1)" class="mi" font-size="40.6">ε</text>
<text transform="translate(1559.44,941.20) scale(1.33,1)" class="mi" font-size="24">c</text>
<rect x="1451.30" y="957.70" width="81.8" height="37.6" fill="#a5be6b"/>
<text transform="translate(1540.29,986.30) scale(1.12,1)" class="mi" font-size="40.6">ε</text>
<text transform="translate(1559.12,991.30) scale(1.33,1)" class="mi" font-size="24">h</text>
<rect x="1451.30" y="1007.80" width="81.8" height="37.6" fill="#fdbe3d"/>
<text transform="translate(1540.29,1036.40) scale(1.12,1)" class="mi" font-size="40.6">ε</text>
<text transform="translate(1559.12,1041.40) scale(1.33,1)" class="mi" font-size="24">r</text>
<rect x="1451.30" y="1057.90" width="81.8" height="37.6" fill="#f9fb0e"/>
<text transform="translate(1542.00,1085.50) scale(1.113,1)" class="lg" word-spacing="2.6">initial value</text>
</g>
<text transform="translate(729.16,24.00) scale(0.96,1)" class="mi" font-size="38.5">y</text>
<text transform="translate(744.35,29.20) scale(1.25,1)" class="mi" font-size="25">h</text>
<text transform="translate(694.90,646.00) scale(1.085,1)" class="mi" font-size="43.4">P</text>
<text transform="translate(718.35,653.00) scale(1.12,1)" class="mi" font-size="28">h</text>
<text transform="translate(738.43,656.40) scale(0.64,1)" class="mi" font-size="63.6">/</text>
<text transform="translate(755.20,646.00) scale(1.085,1)" class="mi" font-size="43.4">P</text>
<text transform="translate(778.29,652.80) scale(1.2,1)" class="mi" font-size="25.5">s</text>
</g>
</svg>
</body></html>
